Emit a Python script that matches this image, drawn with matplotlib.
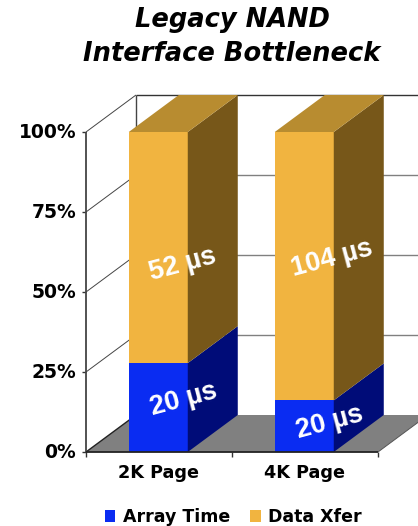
import matplotlib
matplotlib.use("Agg")
import matplotlib.pyplot as plt
from matplotlib.patches import Polygon, Patch

categories = ["2K Page", "4K Page"]
series_names = ["Array Time", "Data Xfer"]
array_time_us = [20, 20]
data_xfer_us = [52, 104]
percent_ticks = [0, 25, 50, 75, 100]

W, H = 418, 526
fig = plt.figure(figsize=(W / 100, H / 100), dpi=100, facecolor="white")
ax = fig.add_axes([86 / W, 1 - 452 / H, 292 / W, 320 / H])
ax.set_xlim(0, 2)
ax.set_ylim(0, 100)
for s in ax.spines.values():
    s.set_visible(False)

# oblique depth of the 3-D box, in data units
DX = 50 / 146
DY = 37 / 3.2
BAR_W = 59 / 146

def face(pts, color, z):
    ax.add_patch(Polygon(pts, closed=True, facecolor=color, edgecolor="none",
                         clip_on=False, zorder=z))

def seg(xs, ys, color, lw, z):
    ax.plot(xs, ys, color=color, lw=lw, clip_on=False, zorder=z,
            solid_capstyle="butt")

# floor
face([(0, 0), (2, 0), (2 + DX, DY), (DX, DY)], "#808080", 1)
seg([0, DX], [0, DY], "#222222", 1.0, 2)
seg([2, 2 + DX], [0, DY], "#555555", 0.7, 2)

# walls and gridlines
for t in percent_ticks[1:]:
    dark = t == 100
    seg([0, DX], [t, t + DY], "#444444", 0.7, 2)
    seg([DX, 2 + DX], [t + DY, t + DY], "#333333" if dark else "#808080",
        1.0, 2)
seg([DX, DX], [DY, 100 + DY], "#444444", 1.0, 2)

# stacked bars, each drawn as front, side and top faces
colors = {
    "low": ("#0A2CF2", "#000C78"),
    "high": ("#F1B440", "#775719", "#B88C30"),
}
for i, (a, d) in enumerate(zip(array_time_us, data_xfer_us)):
    split = 100 * a / (a + d)
    x0 = i + 0.495 - BAR_W / 2
    x1 = x0 + BAR_W
    face([(x0, 0), (x1, 0), (x1, split), (x0, split)], colors["low"][0], 3)
    face([(x1, 0), (x1 + DX, DY), (x1 + DX, split + DY), (x1, split)],
         colors["low"][1], 3)
    face([(x0, split), (x1, split), (x1, 100), (x0, 100)], colors["high"][0], 3)
    face([(x1, split), (x1 + DX, split + DY), (x1 + DX, 100 + DY), (x1, 100)],
         colors["high"][1], 3)
    face([(x0, 100), (x1, 100), (x1 + DX, 100 + DY), (x0 + DX, 100 + DY)],
         colors["high"][2], 3)

# front axis lines
seg([0, 0], [0, 100], "#444444", 1.3, 4)
seg([0, 2], [0, 0], "#222222", 1.3, 4)

# value labels sit across the front and side faces
label_font = dict(color="white", fontsize=19.5, fontweight="bold",
                  family="Liberation Sans", rotation=15, ha="center",
                  va="center", zorder=6, clip_on=False, rotation_mode="anchor")
ax.text(0.665, 58.5, f"{data_xfer_us[0]} µs", **label_font)
ax.text(1.685, 60.5, f"{data_xfer_us[1]} µs", **label_font)
ax.text(0.67, 16.5, f"{array_time_us[0]} µs", **label_font)
ax.text(1.67, 9.2, f"{array_time_us[1]} µs", **label_font)

# ticks
tick_font = dict(family="DejaVu Sans", fontweight="bold")
ax.set_yticks(percent_ticks)
ax.set_yticklabels([f"{t}%" for t in percent_ticks], fontsize=13.5,
                   va="center", **tick_font)
ax.set_xticks([0, 1, 2])
ax.set_xticklabels([])
ax.set_xticks([0.5, 1.5], minor=True)
ax.set_xticklabels(categories, minor=True, fontsize=12.7, **tick_font)
ax.tick_params(axis="x", which="major", length=3.5, width=1, color="#333333")
ax.tick_params(axis="x", which="minor", length=0, pad=9)
ax.tick_params(axis="y", length=3, width=1, color="#333333", pad=4)

# title
fig.text(232 / W, 1 - 37 / H, "Legacy NAND\nInterface Bottleneck", ha="center",
         va="center", fontsize=18.5, fontweight="bold", fontstyle="italic",
         family="DejaVu Sans", linespacing=1.36)

# legend
handles = [Patch(facecolor=colors["low"][0]), Patch(facecolor=colors["high"][0])]
fig.legend(handles, series_names, loc="center", bbox_to_anchor=(233 / W, 1 - 517 / H),
           ncol=2, frameon=False, handlelength=0.62, handleheight=0.62,
           handletextpad=0.42, columnspacing=1.15, borderpad=0,
           prop=dict(family="DejaVu Sans", weight="bold", size=12.5))

fig.savefig("out.png", dpi=100)
